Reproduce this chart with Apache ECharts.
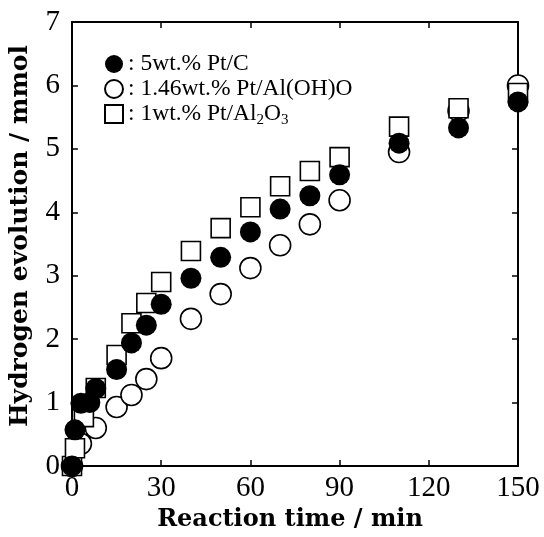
<!DOCTYPE html>
<html>
<head>
<meta charset="utf-8">
<script src="https://cdn.jsdelivr.net/npm/echarts@6/dist/echarts.min.js"></script>
<style>
  html, body { margin: 0; padding: 0; background: #fff; }
  #chart { width: 544px; height: 537px; }
</style>
</head>
<body>
<div id="chart"></div>
<script>
// reaction time (min) / hydrogen evolved (mmol)
const ptCTime = [0, 1, 3, 6, 8, 15, 20, 25, 30, 40, 50, 60, 70, 80, 90, 110, 130, 150];
const ptCH2 = [0, 0.57, 0.99, 1.0, 1.22, 1.52, 1.94, 2.22, 2.55, 2.96, 3.29, 3.69, 4.05, 4.26, 4.59, 5.09, 5.33, 5.74];

const ptAlOOHTime = [0, 3, 8, 15, 20, 25, 30, 40, 50, 60, 70, 80, 90, 110, 130, 150];
const ptAlOOHH2 = [0, 0.35, 0.6, 0.93, 1.12, 1.37, 1.70, 2.32, 2.71, 3.12, 3.48, 3.81, 4.19, 4.95, 5.6, 6.0];

const ptAl2O3Time = [0, 1, 4, 8, 15, 20, 25, 30, 40, 50, 60, 70, 80, 90, 110, 130, 150];
const ptAl2O3H2 = [0, 0.28, 0.77, 1.23, 1.75, 2.25, 2.57, 2.90, 3.39, 3.75, 4.08, 4.41, 4.65, 4.87, 5.35, 5.64, 5.88];

const seriesNames = ["5wt.% Pt/C", "1.46wt.% Pt/Al(OH)O", "1wt.% Pt/Al2O3"];
const xTicks = [0, 30, 60, 90, 120, 150];
const yTicks = [0, 1, 2, 3, 4, 5, 6, 7];

const pairs = (xs, ys) => xs.map((x, i) => [x, ys[i]]);

const serif = "Liberation Serif";
const titleFont = "DejaVu Serif";

const chart = echarts.init(document.getElementById("chart"), null, { renderer: "canvas" });

const xBase = {
  type: "value",
  min: xTicks[0],
  max: xTicks[xTicks.length - 1],
  interval: 30,
  splitLine: { show: false },
  axisLine: { onZero: false, lineStyle: { color: "#000", width: 2 } },
  axisTick: { inside: true, length: 6, lineStyle: { color: "#000", width: 1.5 } },
};
const yBase = {
  type: "value",
  min: yTicks[0],
  max: yTicks[yTicks.length - 1],
  interval: 1,
  splitLine: { show: false },
  axisLine: { onZero: false, lineStyle: { color: "#000", width: 2 } },
  axisTick: { inside: true, length: 6, lineStyle: { color: "#000", width: 1.5 } },
};

chart.setOption({
  animation: false,
  backgroundColor: "#fff",
  grid: { left: 72, right: 26, top: 22, bottom: 71 },
  legend: {
    data: seriesNames,
    orient: "vertical",
    left: 99,
    top: 47,
    itemWidth: 18,
    itemHeight: 18,
    itemGap: 1,
    formatter: (name) => name === seriesNames[2]
      ? ": 1wt.% Pt/Al{s|2}O{s|3}"
      : ": " + name,
    textStyle: {
      fontFamily: serif,
      fontSize: 23.5,
      color: "#000",
      rich: {
        s: { fontFamily: serif, fontSize: 15, color: "#000", verticalAlign: "bottom", padding: [13, 0, 0, 0] },
      },
    },
  },
  xAxis: [
    Object.assign({}, xBase, {
      position: "bottom",
      name: "Reaction time / min",
      nameLocation: "middle",
      nameGap: 41,
      nameTextStyle: { fontFamily: titleFont, fontWeight: "bold", fontSize: 24, color: "#000", padding: [0, 10, 0, 0] },
      axisLabel: { fontFamily: serif, fontSize: 29, color: "#000", margin: 8 },
    }),
    Object.assign({}, xBase, { position: "top", axisLabel: { show: false } }),
  ],
  yAxis: [
    Object.assign({}, yBase, {
      position: "left",
      name: "Hydrogen evolution / mmol",
      nameLocation: "middle",
      nameGap: 39,
      nameTextStyle: { fontFamily: titleFont, fontWeight: "bold", fontSize: 25, color: "#000", padding: [0, 0, 0, 16] },
      axisLabel: { fontFamily: serif, fontSize: 29, color: "#000", margin: 12 },
    }),
    Object.assign({}, yBase, { position: "right", axisLabel: { show: false } }),
  ],
  series: [
    {
      name: seriesNames[1],
      type: "scatter",
      symbol: "circle",
      symbolSize: 21,
      itemStyle: { color: "#fff", borderColor: "#000", borderWidth: 1.6, opacity: 1 },
      data: pairs(ptAlOOHTime, ptAlOOHH2),
    },
    {
      name: seriesNames[2],
      type: "scatter",
      symbol: "rect",
      symbolSize: 19,
      itemStyle: { color: "#fff", borderColor: "#000", borderWidth: 1.6, opacity: 1 },
      data: pairs(ptAl2O3Time, ptAl2O3H2),
    },
    {
      name: seriesNames[0],
      type: "scatter",
      symbol: "circle",
      symbolSize: 21,
      itemStyle: { color: "#000", opacity: 1 },
      data: pairs(ptCTime, ptCH2),
    },
  ],
});
</script>
</body>
</html>
